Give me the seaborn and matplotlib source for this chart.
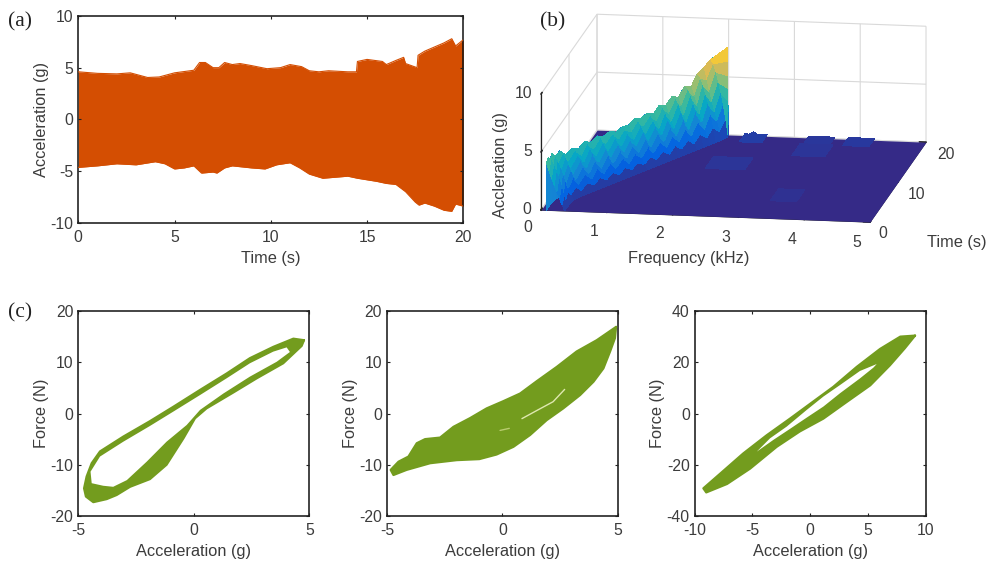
import numpy as np
import matplotlib
matplotlib.use("Agg")
import matplotlib.pyplot as plt
from matplotlib.colors import LinearSegmentedColormap
from mpl_toolkits.mplot3d import proj3d
import seaborn as sns

W, H = 992, 562
TXT = "#3c3c3c"
ORANGE = "#d44e02"
GREEN = "#739c1e"
PARULA = ["#352A87", "#0363E1", "#1485D4", "#06A7C6", "#38B99E",
          "#92BF73", "#D9BA56", "#FCCE2E", "#F9FB0E"]

# (a) envelope of the acceleration record
upper_t = [0, 1, 2, 2.7, 3.6, 4.2, 5, 6, 6.3, 6.6, 7, 7.3, 7.6, 8, 8.4, 9, 9.8, 10.5, 11, 11.6,
           12, 12.5, 13, 14, 14.45, 14.5, 15, 15.8, 16, 16.5, 16.9, 17, 17.6, 17.65, 18, 18.5,
           19, 19.4, 19.6, 20]
upper_g = [4.6, 4.45, 4.4, 4.5, 4.05, 4.1, 4.5, 4.75, 5.5, 5.5, 5.0, 5.0, 5.5, 5.3, 5.4, 5.2, 4.9,
           5.0, 5.3, 5.1, 4.7, 4.6, 4.7, 4.6, 4.6, 5.6, 5.8, 5.6, 5.3, 5.7, 6.0, 5.4, 5.0, 6.2,
           6.6, 7.0, 7.4, 7.8, 7.1, 7.7]
lower_t = [0, 1, 2, 3, 4, 4.5, 5, 5.5, 6, 6.4, 7, 7.2, 7.6, 8, 9, 9.7, 10.3, 11, 11.5, 12, 12.7,
           14, 14.5, 15.5, 16, 16.5, 17, 17.5, 17.7, 18, 18.5, 19, 19.4, 19.6, 20]
lower_g = [-4.65, -4.5, -4.3, -4.4, -4.1, -4.3, -4.8, -4.7, -4.5, -5.2, -5.1, -5.2, -4.7, -4.5,
           -4.7, -4.8, -4.4, -4.2, -4.7, -5.3, -5.7, -5.5, -5.7, -6.0, -6.2, -6.3, -7.0, -8.0,
           -8.3, -8.1, -8.4, -8.8, -8.9, -8.2, -8.4]

# (b) spectrum: crest of the swept ridge
crest_t = [0, .7, 1.4, 2, 2.7, 3.4, 4, 4.7, 5.4, 6, 6.7, 7.4, 8, 8.7, 9.4, 10, 10.7, 11.4, 12, 12.7,
           13.4, 14, 14.7, 15.4, 16, 16.7, 17.4, 18, 18.7, 19.4, 20]
crest_f = [.08, .08, .08, .08, .1, .14, .2, .27, .34, .4, .47, .54, .6, .67, .74, .8, .87, .94, 1, 1.07,
           1.14, 1.2, 1.27, 1.34, 1.4, 1.47, 1.54, 1.6, 1.67, 1.74, 1.98]
crest_z = [4.2, 4.3, 4.0, 4.2, 3.8, 3.95, 3.55, 3.75, 3.6, 3.9, 3.75, 3.95, 3.8, 3.9, 3.75, 3.85,
           3.95, 4.15, 4.05, 4.2, 4.05, 4.45, 4.35, 4.8, 4.6, 5.2, 5.1, 5.8, 6.3, 6.6, 7.76]
crest_width = [1, 1, 1, 1, 1, 1, 1, 1, 1, 1, 1, 1, 1, 1, 1, 1, 1, 1, 1, 1,
               1, 1, 1, 1, 1, 1, 1, 1, 1, .95, .06]
fin_offset = [0, .001, .04, .08, .12, .16, .2, .24, .28]
fin_peak = [0, 1, .95, .85, .72, .58, .42, .22, 0]
fin_notch = [0, .97, .82, .66, .52, .38, .26, .12, 0]
bump_f = [2.4, 3.4, 4.0, 2.3, 3.4, 3.5]
bump_t = [19.4, 19.4, 19.4, 13.1, 17, 5.8]
bump_z = [.55, .35, .4, .3, .3, .2]
bump_half_f = [.17, .2, .2, .3, .25, .2]
bump_half_t = [1.0, 1.0, 1.0, 1.5, 1.5, 1.5]

# (c) hysteresis loops: outer outlines and the open parts inside
loop1_a = [4.77, 4.31, 3.44, 2.43, 1.42, .27, -.89, -1.9, -3.05, -4.06, -4.42, -4.64, -4.75, -4.67,
           -4.35, -3.77, -3.34, -2.76, -1.9, -1.18, -.45, .05, .55, 1.71, 2.72, 3.87, 4.67]
loop1_f = [14.3, 14.6, 13, 10.8, 7.8, 4.6, 1.3, -1.5, -4.5, -7.4, -9.7, -12.3, -14.6, -16.2,
           -17.3, -16.7, -15.9, -14.3, -12.8, -10, -4.85, -.94, 1, 4.1, 6.86, 9.8, 13.2]
hole1_a = [4.02, 3.44, 2.43, 1.42, .27, -.89, -1.9, -3.05, -4.06, -4.47, -4.42, -3.92, -3.49, -2.9,
           -2.04, -1.18, -.31, .27, 1.28, 2.43, 3.59, 4.16]
hole1_f = [12.9, 12.07, 9.8, 6.86, 3.6, .36, -2.44, -5.5, -8.4, -11.35, -13.6, -14.1, -14.3, -13,
           -9.4, -5.5, -2.25, .7, 3.9, 7.2, 10.1, 12]
loop2_a = [4.93, 4.09, 3.22, 2.36, 1.49, .77, .04, -.68, -1.4, -2.12, -2.7, -3.35, -3.71, -4.07,
           -4.5, -4.84, -4.72, -4.15, -3.13, -1.98, -1, -.25, .48, 1.2, 1.92, 2.64, 3.37, 3.95,
           4.38, 4.67, 4.88]
loop2_f = [16.9, 14.3, 12.1, 9.1, 6.3, 3.9, 2.4, 1, -.9, -2.6, -4.7, -5, -5.8, -8.4,
           -9.4, -11, -12, -11, -9.7, -9.1, -8.9, -8, -6.5, -4.2, -1.3, 1, 3.6, 6.2,
           8.8, 12.1, 14.7]
slit2_a = [.85, 1.5, 2.2, 2.7]
slit2_f = [-1.0, .6, 2.3, 4.7]
slit2b_a = [-.1, .3]
slit2b_f = [-3.3, -2.9]
loop3_a = [9.08, 7.8, 6.05, 4.03, 2, 0, -1.75, -3.77, -5.8, -7.8, -9.25, -9, -7.2, -5.2, -2.9, -.9,
           1.14, 3.16, 5.2, 6.9, 8.2]
loop3_f = [30.4, 30, 25.2, 18.2, 10.4, 3.8, -2, -8.5, -15.6, -23.5, -29.2, -30.8, -27.5, -21.5,
           -13, -7, -2, 4.5, 11, 18.8, 25.5]
hole3_a = [5.76, 4.31, 2.58, 1.14, -.3, -2.03, -3.48, -4.63, -3.19, -1.75, -.3, 1.14, 2.58, 4.31, 5.47]
hole3_f = [19.3, 16.6, 11.1, 6.6, 1.4, -5.1, -9.7, -14.9, -10.3, -6, -1.6, 2.7, 7.9, 13.7, 17.9]

sns.set_theme(style="white")
plt.rcParams["font.family"] = ["Liberation Sans", "DejaVu Sans"]
plt.rcParams["axes.linewidth"] = 1.1
plt.rcParams["axes.edgecolor"] = "#111111"
plt.rcParams["axes.unicode_minus"] = False

fig = plt.figure(figsize=(W / 100, H / 100), dpi=100, facecolor="white")


def px_axes(x0, y0, x1, y1, **kw):
    return fig.add_axes([x0 / W, 1 - y1 / H, (x1 - x0) / W, (y1 - y0) / H], **kw)


def style(ax, xlim, ylim, xt, yt, xlabel, ylabel):
    ax.set_xlim(xlim)
    ax.set_ylim(ylim)
    ax.set_xticks(xt)
    ax.set_yticks(yt)
    ax.tick_params(direction="in", length=2.5, width=.8, top=True, right=True, bottom=True, left=True,
                   labelsize=11.3, labelcolor=TXT, color="#222222")
    ax.tick_params(axis="x", pad=5)
    ax.tick_params(axis="y", pad=3.5)
    ax.set_xlabel(xlabel, fontsize=11.8, color=TXT, labelpad=4.5)
    ax.set_ylabel(ylabel, fontsize=11.8, color=TXT, labelpad=1)
    ax.set_axisbelow(False)


def draw_loop(ax, a, f, hole_a=None, hole_f=None):
    ax.fill(a, f, color=GREEN, lw=0, zorder=2)
    sns.lineplot(x=list(a) + [a[0]], y=list(f) + [f[0]], sort=False, estimator=None, ax=ax,
                 color=GREEN, lw=1.6, zorder=3)
    if hole_a is not None:
        ax.fill(hole_a, hole_f, color="white", lw=0, zorder=4)


# panel (a)
ax = px_axes(78.3, 16, 463.3, 222.7)
grid_t = sorted(set(upper_t) | set(lower_t))
ax.fill_between(grid_t, np.interp(grid_t, lower_t, lower_g), np.interp(grid_t, upper_t, upper_g),
                color=ORANGE, lw=0, zorder=2)
sns.lineplot(x=upper_t, y=upper_g, ax=ax, color=ORANGE, lw=.8, zorder=3)
sns.lineplot(x=lower_t, y=lower_g, ax=ax, color=ORANGE, lw=.8, zorder=3)
style(ax, (0, 20), (-10, 10), [0, 5, 10, 15, 20], [-10, -5, 0, 5, 10], "Time (s)", "Acceleration (g)")

# panels (c)
ax = px_axes(78.3, 311, 309.3, 516)
draw_loop(ax, loop1_a, loop1_f, hole1_a, hole1_f)
style(ax, (-5, 5), (-20, 20), [-5, 0, 5], [-20, -10, 0, 10, 20], "Acceleration (g)", "Force (N)")

ax = px_axes(387, 311, 617.7, 516)
draw_loop(ax, loop2_a, loop2_f)
sns.lineplot(x=slit2_a, y=slit2_f, sort=False, estimator=None, ax=ax, color="#dfe8b0", lw=1, zorder=5)
sns.lineplot(x=slit2b_a, y=slit2b_f, sort=False, estimator=None, ax=ax, color="#b9cc70", lw=1, zorder=5)
style(ax, (-5, 5), (-20, 20), [-5, 0, 5], [-20, -10, 0, 10, 20], "Acceleration (g)", "Force (N)")

ax = px_axes(694.7, 311, 925.7, 516)
draw_loop(ax, loop3_a, loop3_f, hole3_a, hole3_f)
style(ax, (-10, 10), (-40, 40), [-10, -5, 0, 5, 10], [-40, -20, 0, 20, 40], "Acceleration (g)", "Force (N)")

# panel (b)
parula = LinearSegmentedColormap.from_list("parula_like", PARULA)
ax3 = px_axes(540, 0, 930, 280, projection="3d", computed_zorder=False)
ax3.set_proj_type("ortho")
ax3.set_box_aspect((333, 354, 119), zoom=1.0)
ax3.view_init(elev=13.2, azim=-80.9)
ax3.set_xlim(0, 5)
ax3.set_ylim(0, 20)
ax3.set_zlim(0, 10)
ax3.patch.set_alpha(0)

surfaces = []
fx, ty = np.meshgrid(np.array([0, 5.0]), np.array([0, 20.0]))
surfaces.append(ax3.plot_surface(fx, ty, np.zeros_like(fx), color=PARULA[0], shade=False, linewidth=0,
                                 antialiased=False, zorder=1))
for bf, bt, bz, hf, ht in zip(bump_f, bump_t, bump_z, bump_half_f, bump_half_t):
    gx, gy = np.meshgrid([bf - hf, bf, bf + hf], [bt - ht, bt, bt + ht])
    gz = np.zeros((3, 3))
    gz[1, 1] = bz
    surfaces.append(ax3.plot_surface(gx, gy, gz, cmap=parula, vmin=0, vmax=3, shade=False, linewidth=0,
                                     antialiased=False, zorder=2))

offsets = np.array(fin_offset)
rows_x = np.array(crest_f)[:, None] + np.array(crest_width)[:, None] * offsets[None, :]
rows_y = np.repeat(np.array(crest_t)[:, None], len(offsets), axis=1)
rows_z = np.array([np.array(fin_peak if i % 2 else fin_notch) * z for i, z in enumerate(crest_z)])
surfaces.append(ax3.plot_surface(rows_x, rows_y, rows_z, cmap=parula, vmin=0, vmax=8, shade=False, linewidth=0,
                                 antialiased=False, rstride=1, cstride=1, zorder=3))
for s in surfaces:
    s.set_clip_on(False)

ax3.set_xticks([0, 1, 2, 3, 4, 5])
ax3.set_yticks([0, 10, 20])
ax3.set_zticks([0, 5, 10])
ax3.set_xticklabels([])
ax3.set_yticklabels([])
ax3.set_zticklabels([])
for axis in (ax3.xaxis, ax3.yaxis, ax3.zaxis):
    axis.set_pane_color((1, 1, 1, 0))
    axis.pane.set_edgecolor("none")
    axis._axinfo["grid"].update(color="#d9d9d9", linewidth=.8)
    axis._axinfo["tick"].update(inward_factor=0, outward_factor=.25)
    axis.line.set_color("#222222")
    axis.line.set_linewidth(.9)
ax3.zaxis.set_ticks_position("lower")
ax3.zaxis.set_label_position("lower")


def corner_px(x, y, z):
    X, Y, _ = proj3d.proj_transform(x, y, z, ax3.get_proj())
    return ax3.transData.transform((X, Y))


# fit the box onto the reference's floor corners
fig.canvas.draw()
p0 = corner_px(0, 0, 0)
p1 = corner_px(5, 0, 0)
ax3.set_box_aspect((333, 354, 119), zoom=(870 - 541) / (p1[0] - p0[0]))
fig.canvas.draw()
p0 = corner_px(0, 0, 0)
pos = ax3.get_position()
ax3.set_position([pos.x0 + (541 - p0[0]) / W, pos.y0 + ((H - 210) - p0[1]) / H, pos.width, pos.height])

FONT = dict(ha="center", va="center", fontsize=11.3, color=TXT)
x_labels = ["0", "1", "2", "3", "4", "5"]
x_label_px = [(528, 228), (594, 232), (660, 233), (726, 237), (792, 240), (857, 242)]
for s, (x, y) in zip(x_labels, x_label_px):
    fig.text(x / W, 1 - y / H, s, **FONT)
for s, (x, y) in zip(["0", "10", "20"], [(883, 233), (917, 195), (946, 155)]):
    fig.text(x / W, 1 - y / H, s, **FONT)
for s, (x, y) in zip(["0", "5", "10"], [(527, 210), (528, 152), (524, 94)]):
    fig.text(x / W, 1 - y / H, s, **FONT)

fig.text(500 / W, 1 - 165 / H, "Accleration (g)", rotation=90, ha="center", va="center", fontsize=11.8, color=TXT)
fig.text(689 / W, 1 - 259 / H, "Frequency (kHz)", ha="center", va="center", fontsize=11.8, color=TXT)
fig.text(957 / W, 1 - 243 / H, "Time (s)", ha="center", va="center", fontsize=11.8, color=TXT)

for label, x, y in [("(a)", 20, 22), ("(b)", 553, 22), ("(c)", 20, 313)]:
    fig.text(x / W, 1 - y / H, label, ha="center", va="center", fontsize=15.5, color="#222222",
             family=["Liberation Serif", "DejaVu Serif"])

fig.savefig("out.png", dpi=100)
